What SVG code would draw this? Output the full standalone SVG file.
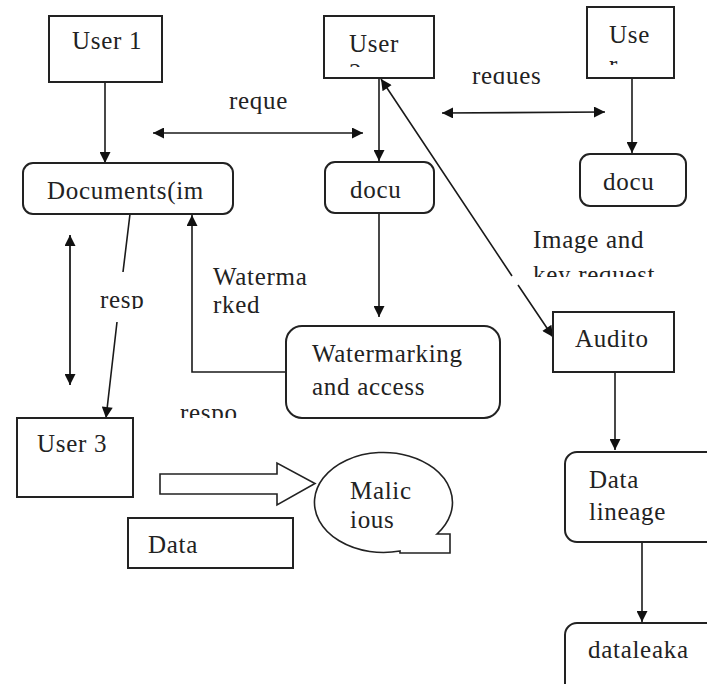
<svg xmlns="http://www.w3.org/2000/svg" width="707" height="684" viewBox="0 0 707 684">
<style>
  .box{fill:#fff;stroke:#222;stroke-width:2}
  .t{font-family:'Liberation Serif','DejaVu Serif',serif;font-size:25px;letter-spacing:0.7px;fill:#222}
  .ln{fill:none;stroke:#1a1a1a;stroke-width:1.6}
  .arr{marker-end:url(#ah)}
  .dbl{marker-start:url(#ah);marker-end:url(#ah)}
</style>
<defs>
  <marker id="ah" viewBox="0 0 10 10" refX="10" refY="5" markerWidth="13" markerHeight="11" markerUnits="userSpaceOnUse" orient="auto-start-reverse">
    <path d="M0,0 L10,5 L0,10 z" fill="#111"/>
  </marker>
  <clipPath id="cU2"><rect x="324" y="16" width="110" height="51"/></clipPath>
  <clipPath id="cU4"><rect x="587" y="7" width="87" height="58"/></clipPath>
  <clipPath id="cReq2"><rect x="465" y="55" width="90" height="29"/></clipPath>
  <clipPath id="cResp"><rect x="95" y="285" width="60" height="24"/></clipPath>
  <clipPath id="cRespo"><rect x="175" y="395" width="70" height="23"/></clipPath>
  <clipPath id="cImg"><rect x="525" y="225" width="140" height="52"/></clipPath>
</defs>
<rect width="707" height="684" fill="#fff"/>

<g id="connectors">
  <path class="ln arr" d="M105 82 L105 163"/>
  <path class="ln dbl" d="M153 133 L363 133"/>
  <path class="ln arr" d="M379 78 L379 161"/>
  <path class="ln dbl" d="M442 113 L605 112"/>
  <path class="ln arr" d="M632 78 L632 153"/>
  <path class="ln dbl" d="M381 79 L512 276 M518 285 L553 337"/>
  <path class="ln arr" d="M379 213 L379 317"/>
  <path class="ln arr" d="M286 372 L192 372 L192 215"/>
  <path class="ln dbl" d="M70 235 L70 385" style="stroke:#333;stroke-width:2"/>
  <path class="ln arr" d="M130 214 L123 272 M117 322 L106 418"/>
  <path class="ln arr" d="M615 372 L615 450"/>
  <path class="ln arr" d="M642 542 L642 622"/>
  <path d="M160 474 L277 474 L277 463 L315 483.5 L277 505 L277 494 L160 494 Z" fill="#fff" stroke="#222" stroke-width="1.6"/>
</g>

<g id="labels">
  <text class="t" x="229" y="109">reque</text>
  <text class="t" x="472" y="84" clip-path="url(#cReq2)">reques</text>
  <text class="t" x="533" y="248">Image and</text>
  <text class="t" x="533" y="283" clip-path="url(#cImg)">key request</text>
  <text class="t" x="213" y="285">Waterma</text>
  <text class="t" x="213" y="313">rked</text>
  <text class="t" x="100" y="308" clip-path="url(#cResp)">resp</text>
  <text class="t" x="180" y="421" clip-path="url(#cRespo)">respo</text>
</g>

<g id="user1">
  <rect class="box" x="49" y="16" width="113" height="66"/>
  <text class="t" x="72" y="49">User 1</text>
</g>
<g id="user2">
  <rect class="box" x="324" y="16" width="110" height="62"/>
  <text class="t" x="349" y="52">User</text>
  <text class="t" x="349" y="81" clip-path="url(#cU2)">2</text>
</g>
<g id="user4">
  <rect class="box" x="587" y="7" width="87" height="71"/>
  <text class="t" x="609" y="43">Use</text>
  <text class="t" x="609" y="73" clip-path="url(#cU4)">r</text>
</g>
<g id="documents">
  <rect class="box" x="23" y="163" width="210" height="51" rx="10"/>
  <text class="t" x="47" y="199">Documents(im</text>
</g>
<g id="docu2">
  <rect class="box" x="325" y="162" width="109" height="51" rx="10"/>
  <text class="t" x="350" y="198">docu</text>
</g>
<g id="docu4">
  <rect class="box" x="580" y="154" width="106" height="52" rx="10"/>
  <text class="t" x="603" y="190">docu</text>
</g>
<g id="watermarking">
  <rect class="box" x="286" y="326" width="214" height="92" rx="16"/>
  <text class="t" x="312" y="362">Watermarking</text>
  <text class="t" x="312" y="395">and access</text>
</g>
<g id="auditor">
  <rect class="box" x="553" y="312" width="121" height="60"/>
  <text class="t" x="575" y="347">Audito</text>
</g>
<g id="user3">
  <rect class="box" x="17" y="418" width="116" height="79"/>
  <text class="t" x="37" y="452">User 3</text>
</g>
<g id="malicious">
  <path d="M437 534 L450 534 L450 553 L400 553 L400 551 A69 50 0 1 1 437 534 Z" fill="#fff" stroke="#222" stroke-width="1.6"/>
  <text class="t" x="350" y="499">Malic</text>
  <text class="t" x="350" y="528">ious</text>
</g>
<g id="data">
  <rect class="box" x="128" y="518" width="165" height="50"/>
  <text class="t" x="148" y="553">Data</text>
</g>
<g id="lineage">
  <rect class="box" x="565" y="452" width="160" height="90" rx="12"/>
  <text class="t" x="589" y="488">Data</text>
  <text class="t" x="589" y="520">lineage</text>
</g>
<g id="dataleaka">
  <rect class="box" x="565" y="623" width="160" height="80" rx="12"/>
  <text class="t" x="588" y="658">dataleaka</text>
</g>
</svg>
